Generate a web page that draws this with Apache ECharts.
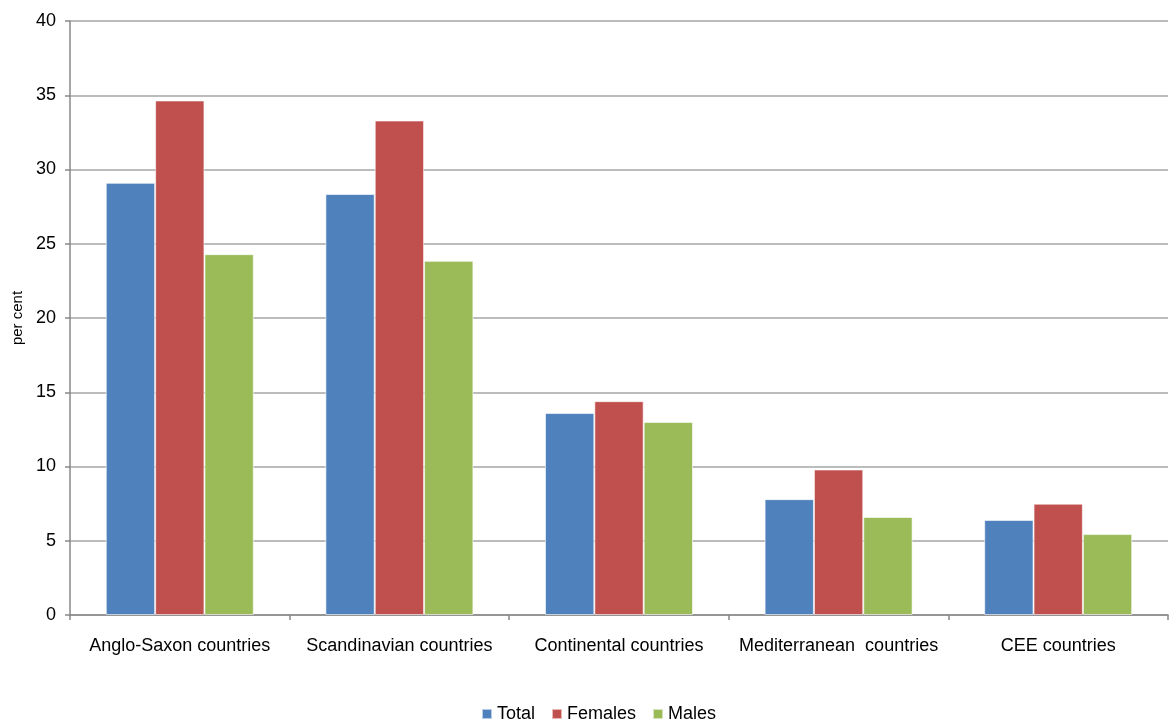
<!DOCTYPE html>
<html><head><meta charset="utf-8">
<script src="https://cdn.jsdelivr.net/npm/echarts@6/dist/echarts.min.js"></script>
<style>html,body{margin:0;padding:0;background:#fff}#c{width:1170px;height:722px}</style>
</head><body><div id="c"></div>
<script>
const categories = ["Anglo-Saxon countries","Scandinavian countries","Continental countries","Mediterranean  countries","CEE countries"];
const total = [29.1, 28.35, 13.6, 7.8, 6.4];
const females = [34.65, 33.3, 14.4, 9.8, 7.5];
const males = [24.3, 23.85, 13.0, 6.6, 5.45];
const yTicks = [0,5,10,15,20,25,30,35,40];

const font = "'Liberation Sans', Arial, sans-serif";
const chart = echarts.init(document.getElementById('c'));
const mk = (name, data, color) => ({
  name, type: 'bar', data, barGap: '0%', barCategoryGap: '32.6%',
  itemStyle: {color, borderColor: 'rgba(255,255,255,0.6)', borderWidth: 1},
  emphasis: {disabled: true}
});
chart.setOption({
  animation: false,
  textStyle: {fontFamily: font},
  grid: {left: 70, right: 2, top: 21, bottom: 107, containLabel: false},
  legend: {
    top: 700, left: 476, itemWidth: 10, itemHeight: 10, itemGap: 16,
    icon: 'rect', textStyle: {fontSize: 18, color: '#000', fontFamily: font},
    data: ['Total','Females','Males']
  },
  xAxis: {
    type: 'category', data: categories,
    axisLine: {lineStyle: {color: '#888', width: 1.5}},
    axisTick: {show: true, length: 5, lineStyle: {color: '#888', width: 1.5}},
    axisLabel: {fontSize: 18, color: '#000', margin: 22, interval: 0, fontFamily: font}
  },
  yAxis: {
    type: 'value', min: yTicks[0], max: yTicks[yTicks.length-1], interval: 5,
    name: 'per cent', nameLocation: 'middle', nameGap: 44, nameRotate: 90,
    nameTextStyle: {fontSize: 15, color: '#000', fontFamily: font},
    axisLine: {show: true, lineStyle: {color: '#888', width: 1.5}},
    axisTick: {show: true, length: 5, lineStyle: {color: '#888', width: 1.5}},
    axisLabel: {fontSize: 18, color: '#000', margin: 14, fontFamily: font},
    splitLine: {lineStyle: {color: '#a6a6a6', width: 1.5}}
  },
  series: [
    mk('Total', total, '#4F81BD'),
    mk('Females', females, '#C0504D'),
    mk('Males', males, '#9BBB59')
  ]
});
</script></body></html>
